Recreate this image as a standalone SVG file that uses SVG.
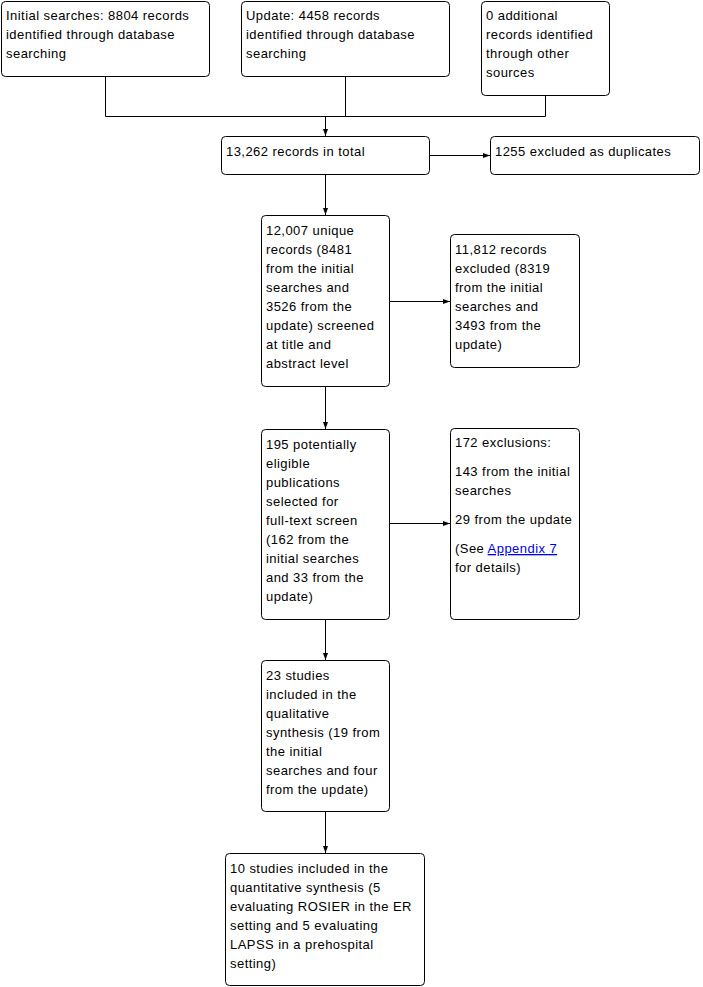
<svg xmlns="http://www.w3.org/2000/svg" width="703" height="987" viewBox="0 0 703 987">
<style>
.b{fill:#fff;stroke:#000;stroke-width:1}
.t{font-family:"Liberation Sans",Arial,sans-serif;font-size:13px;letter-spacing:0.45px;fill:#000}
.c{fill:none;stroke:#000;stroke-width:1}
.a{marker-end:url(#ah)}
.lnk{fill:#0000ee;text-decoration:underline}
</style>
<defs>
<marker id="ah" markerWidth="7" markerHeight="6" refX="7" refY="3" orient="auto" markerUnits="userSpaceOnUse">
<path d="M0,0.5 L7,3 L0,5.5 Z" fill="#000"/>
</marker>
</defs>
<rect width="703" height="987" fill="#fff"/>
<g id="connectors">
<path class="c" d="M105.5,76 V116.5 H545.5 M345.5,76 V116.5 M545.5,95 V116.5"/>
<path class="c a" d="M325.5,116.5 V136"/>
<path class="c a" d="M429,155.5 H490"/>
<path class="c a" d="M325.5,174 V215"/>
<path class="c a" d="M389,301.5 H450"/>
<path class="c a" d="M325.5,386 V429"/>
<path class="c a" d="M389,523.5 H450"/>
<path class="c a" d="M325.5,619 V660"/>
<path class="c a" d="M325.5,811 V853"/>
</g>
<g id="n1">
<rect class="b" x="1.5" y="1.5" width="208" height="75" rx="4"/>
<text class="t" x="6" y="20">Initial searches: 8804 records</text>
<text class="t" x="6" y="39">identified through database</text>
<text class="t" x="6" y="58">searching</text>
</g>
<g id="n2">
<rect class="b" x="241.5" y="1.5" width="208" height="75" rx="4"/>
<text class="t" x="246" y="20">Update: 4458 records</text>
<text class="t" x="246" y="39">identified through database</text>
<text class="t" x="246" y="58">searching</text>
</g>
<g id="n3">
<rect class="b" x="481.5" y="1.5" width="128" height="94" rx="4"/>
<text class="t" x="486" y="20">0 additional</text>
<text class="t" x="486" y="39">records identified</text>
<text class="t" x="486" y="58">through other</text>
<text class="t" x="486" y="77">sources</text>
</g>
<g id="n4">
<rect class="b" x="221.5" y="136.5" width="208" height="38" rx="4"/>
<text class="t" x="226" y="156">13,262 records in total</text>
</g>
<g id="n5">
<rect class="b" x="490.5" y="136.5" width="209" height="38" rx="4"/>
<text class="t" x="495" y="156">1255 excluded as duplicates</text>
</g>
<g id="n6">
<rect class="b" x="261.5" y="215.5" width="128" height="171" rx="4"/>
<text class="t" x="266" y="235">12,007 unique</text>
<text class="t" x="266" y="254">records (8481</text>
<text class="t" x="266" y="273">from the initial</text>
<text class="t" x="266" y="292">searches and</text>
<text class="t" x="266" y="311">3526 from the</text>
<text class="t" x="266" y="330">update) screened</text>
<text class="t" x="266" y="349">at title and</text>
<text class="t" x="266" y="368">abstract level</text>
</g>
<g id="n7">
<rect class="b" x="450.5" y="234.5" width="129" height="133" rx="4"/>
<text class="t" x="455" y="254">11,812 records</text>
<text class="t" x="455" y="273">excluded (8319</text>
<text class="t" x="455" y="292">from the initial</text>
<text class="t" x="455" y="311">searches and</text>
<text class="t" x="455" y="330">3493 from the</text>
<text class="t" x="455" y="349">update)</text>
</g>
<g id="n8">
<rect class="b" x="261.5" y="429.5" width="128" height="190" rx="4"/>
<text class="t" x="266" y="449">195 potentially</text>
<text class="t" x="266" y="468">eligible</text>
<text class="t" x="266" y="487">publications</text>
<text class="t" x="266" y="506">selected for</text>
<text class="t" x="266" y="525">full-text screen</text>
<text class="t" x="266" y="544">(162 from the</text>
<text class="t" x="266" y="563">initial searches</text>
<text class="t" x="266" y="582">and 33 from the</text>
<text class="t" x="266" y="601">update)</text>
</g>
<g id="n9">
<rect class="b" x="450.5" y="428.5" width="129" height="191" rx="4"/>
<text class="t" x="455" y="447">172 exclusions:</text>
<text class="t" x="455" y="476">143 from the initial</text>
<text class="t" x="455" y="495">searches</text>
<text class="t" x="455" y="524">29 from the update</text>
<text class="t" x="455" y="553">(See <tspan class="lnk">Appendix 7</tspan></text>
<text class="t" x="455" y="572">for details)</text>
</g>
<g id="n10">
<rect class="b" x="261.5" y="660.5" width="128" height="151" rx="4"/>
<text class="t" x="266" y="680">23 studies</text>
<text class="t" x="266" y="699">included in the</text>
<text class="t" x="266" y="718">qualitative</text>
<text class="t" x="266" y="737">synthesis (19 from</text>
<text class="t" x="266" y="756">the initial</text>
<text class="t" x="266" y="775">searches and four</text>
<text class="t" x="266" y="794">from the update)</text>
</g>
<g id="n11">
<rect class="b" x="225.5" y="853.5" width="199" height="132" rx="4"/>
<text class="t" x="230" y="873">10 studies included in the</text>
<text class="t" x="230" y="892">quantitative synthesis (5</text>
<text class="t" x="230" y="911">evaluating ROSIER in the ER</text>
<text class="t" x="230" y="930">setting and 5 evaluating</text>
<text class="t" x="230" y="949">LAPSS in a prehospital</text>
<text class="t" x="230" y="968">setting)</text>
</g>
</svg>
